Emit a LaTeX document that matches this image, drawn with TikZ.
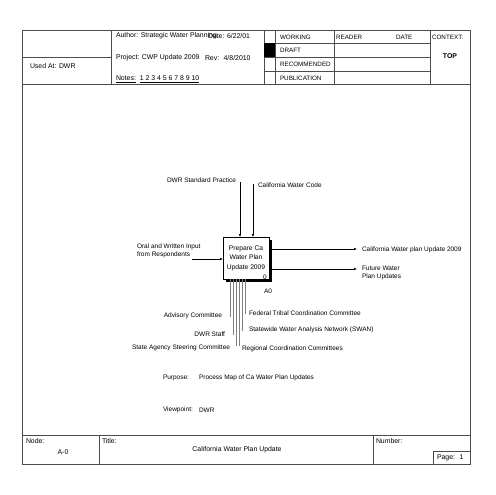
\documentclass[tikz,border=0pt]{standalone}
\usepackage{fontspec}
\setmainfont{Liberation Sans}
\usetikzlibrary{arrows.meta}
\begin{document}
\begin{tikzpicture}[x=1pt,y=-1pt,
  every node/.style={inner sep=0pt,outer sep=0pt,font=\fontsize{6.5}{7.6}\selectfont},
  hdr/.style={font=\fontsize{6.9}{8}\selectfont},
  stat/.style={font=\fontsize{6.3}{7.5}\selectfont},
  frameline/.style={draw=black!70,line width=0.6pt},
  lbl/.style={anchor=west},
  rlbl/.style={anchor=east},
  flow/.style={draw=black,line width=0.5pt,-{Latex[length=3pt,width=2.5pt]}},
  mech/.style={draw=black!50,line width=0.5pt},
  actbox/.style={draw=black,line width=0.6pt,fill=white,minimum width=46pt,minimum height=42pt,align=center,font=\fontsize{6.7}{9.6}\selectfont}]
\useasboundingbox (0,0) rectangle (495,495);
% outer frame
\draw[frameline] (22,30) rectangle (470,464);
% header
\draw[frameline] (22,84) -- (470,84);
\draw[frameline] (111,30) -- (111,84);
\draw[frameline] (22,57) -- (111,57);
\draw[frameline] (264,30) -- (264,84);
\draw[frameline] (275,30) -- (275,84);
\draw[frameline] (334,30) -- (334,84);
\draw[frameline] (430,30) -- (430,84);
\foreach \yy in {43,57,71} \draw[frameline] (264,\yy) -- (430,\yy);
\fill[black] (264,43) rectangle (275,57);
\node[lbl,hdr] (usedat) at (30,66) {Used At: DWR};
\node[lbl,hdr] (author) at (116,36) {Author: Strategic Water Planning};
\node[lbl,hdr] (date) at (208,36) {Date: 6/22/01};
\node[lbl,hdr] (project) at (116,58) {Project: CWP Update 2009};
\node[lbl,hdr] (rev) at (205,58) {Rev: \ 4/8/2010};
\node[lbl,hdr] (notes) at (116,79) {\underline{Notes:} \ \underline{1 2 3 4 5 6 7 8 9 10}};
\node[lbl,stat] (working) at (280,37) {WORKING};
\node[lbl,stat] (draft) at (280,50) {DRAFT};
\node[lbl,stat] (recommended) at (280,64) {RECOMMENDED};
\node[lbl,stat] (publication) at (280,78) {PUBLICATION};
\node[lbl,stat] (reader) at (336,37) {READER};
\node[lbl,stat] (datecol) at (396,37) {DATE};
\node[lbl,stat] (context) at (432,37) {CONTEXT:};
\node[hdr] (top) at (450,56) {\bfseries TOP};
% footer
\draw[frameline] (22,435) -- (470,435);
\draw[frameline] (99,435) -- (99,464);
\draw[frameline] (373,435) -- (373,464);
\draw[frameline] (433,451) rectangle (470,464);
\node[lbl,hdr] (nodelbl) at (26,441) {Node:};
\node[hdr] (nodeval) at (63,452) {A-0};
\node[lbl,hdr] (titlelbl) at (102,441) {Title:};
\node[hdr] (titleval) at (237,450) {California Water Plan Update};
\node[lbl,hdr] (numberlbl) at (376,441) {Number:};
\node[lbl,hdr] (page) at (437,458) {Page: \ 1};
% activity box with shadow
\fill[black] (226,240) rectangle (272,282);
\node[actbox] (box) at (246,258) {Prepare Ca\\Water Plan\\Update 2009};
\node (zero) at (265,277) {0};
\node (a0) at (268,291) {A0};
% controls
\node[rlbl] (dwrstd) at (236,180) {DWR Standard Practice};
\node[lbl] (cwc) at (258,185) {California Water Code};
\coordinate (c1) at (240,182);
\coordinate (c2) at (253,184);
\draw[flow] (c1) -- (box.north -| c1);
\draw[flow] (c2) -- (box.north -| c2);
% input
\node[lbl,align=left] (oral) at (137,251) {Oral and Written Input\\from Respondents};
\coordinate (i1) at (192,259);
\draw[flow] (i1) -- (box.west |- i1);
% outputs
\node[lbl] (out1) at (362,250) {California Water plan Update 2009};
\node[lbl,align=left] (out2) at (362,273) {Future Water\\Plan Updates};
\coordinate (o1) at (357,249);
\coordinate (o2) at (357,269);
\draw[flow] (box.east |- o1) -- (o1);
\draw[flow] (box.east |- o2) -- (o2);
% mechanisms
\node[rlbl] (advisory) at (222,316) {Advisory Committee};
\node[rlbl] (dwrstaff) at (225,334) {DWR Staff};
\node[rlbl] (stateag) at (230,348) {State Agency Steering Committee};
\node[lbl] (federal) at (249,313) {Federal Tribal Coordination Committee};
\node[lbl] (swan) at (249,330) {Statewide Water Analysis Network (SWAN)};
\node[lbl] (regional) at (242,349) {Regional Coordination Committees};
\coordinate (m1) at (230,317);
\coordinate (m2) at (233,335);
\coordinate (m3) at (236,346);
\coordinate (m4) at (239,346);
\coordinate (m5) at (242,331);
\coordinate (m6) at (245,314);
\foreach \m in {m1,m2,m3,m4,m5,m6} \draw[mech] (\m) -- (box.south -| \m);
% purpose / viewpoint
\node[lbl] (purposelbl) at (163,378) {Purpose:};
\node[lbl] (purpose) at (199,378) {Process Map of Ca Water Plan Updates};
\node[lbl] (viewlbl) at (163,410) {Viewpoint:};
\node[lbl] (view) at (199,410) {DWR};
\end{tikzpicture}
\end{document}
